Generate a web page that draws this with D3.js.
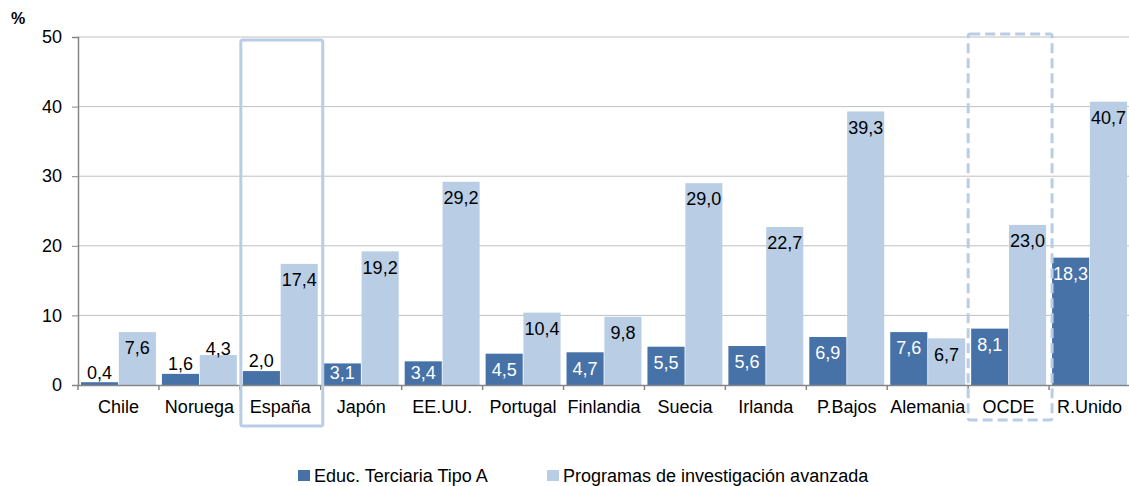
<!DOCTYPE html>
<html>
<head>
<meta charset="utf-8">
<script src="https://cdn.jsdelivr.net/npm/d3@7"></script>
<style>
  body { margin: 0; background: #fff; }
  svg { font-family: "Liberation Sans", Arial, sans-serif; }
</style>
</head>
<body>
<div id="chart"></div>
<script>
// data
var paises = ["Chile", "Noruega", "España", "Japón", "EE.UU.", "Portugal", "Finlandia", "Suecia", "Irlanda", "P.Bajos", "Alemania", "OCDE", "R.Unido"];
var terciariaA = [0.4, 1.6, 2.0, 3.1, 3.4, 4.5, 4.7, 5.5, 5.6, 6.9, 7.6, 8.1, 18.3];
var investigacion = [7.6, 4.3, 17.4, 19.2, 29.2, 10.4, 9.8, 29.0, 22.7, 39.3, 6.7, 23.0, 40.7];
var yTicks = [0, 10, 20, 30, 40, 50];
var series = ["Educ. Terciaria Tipo A", "Programas de investigación avanzada"];

var W = 1129, H = 486;
var margin = { top: 37, right: -1, bottom: 101, left: 78 };
var width = W - margin.left - margin.right;
var height = H - margin.top - margin.bottom;

var dark = "#4672A8", light = "#B9CDE5";
var fs = 18;

var svg = d3.select("#chart").append("svg")
  .attr("width", W).attr("height", H);
var g = svg.append("g")
  .attr("transform", "translate(" + margin.left + "," + margin.top + ")");

var x = d3.scaleBand().domain(paises).range([0, width]);
var x1 = d3.scaleBand().domain([0, 1]).range([3, x.bandwidth() - 3]).paddingInner(0.02);
var y = d3.scaleLinear().domain([0, 50]).range([height, 0]);

// grid
g.selectAll(".grid").data(yTicks.slice(1)).enter().append("line")
  .attr("x1", 0).attr("x2", width)
  .attr("y1", function (d) { return y(d); }).attr("y2", function (d) { return y(d); })
  .attr("stroke", "#c0c0c0").attr("stroke-width", 1);

// y axis
var yAxis = g.append("g").call(d3.axisLeft(y).tickValues(yTicks).tickSize(6).tickPadding(10).tickFormat(d3.format("d")));
yAxis.select(".domain").attr("stroke", "#868686").attr("stroke-width", 1.5);
yAxis.selectAll(".tick line").attr("stroke", "#868686");
yAxis.selectAll("text").attr("font-size", fs).attr("fill", "#000");

// bars
var grp = g.selectAll(".grp").data(paises).enter().append("g")
  .attr("transform", function (d) { return "translate(" + x(d) + ",0)"; });

grp.append("rect")
  .attr("x", x1(0)).attr("width", x1.bandwidth())
  .attr("y", function (d, i) { return y(terciariaA[i]); })
  .attr("height", function (d, i) { return height - y(terciariaA[i]); })
  .attr("fill", dark);
grp.append("rect")
  .attr("x", x1(1)).attr("width", x1.bandwidth())
  .attr("y", function (d, i) { return y(investigacion[i]); })
  .attr("height", function (d, i) { return height - y(investigacion[i]); })
  .attr("fill", light);

var fmt = function (v) { return d3.format(".1f")(v).replace(".", ","); };

// value labels (inside end, pushed above when the bar is too short)
grp.append("text")
  .attr("x", x1(0) + x1.bandwidth() / 2)
  .attr("y", function (d, i) {
    var t = y(terciariaA[i]);
    return terciariaA[i] < 3 ? t - 10 : Math.min(t + 16, height - 12);
  })
  .attr("dy", "0.35em").attr("text-anchor", "middle").attr("font-size", fs)
  .attr("fill", function (d, i) { return terciariaA[i] < 3 ? "#000" : "#fff"; })
  .text(function (d, i) { return fmt(terciariaA[i]); });
grp.append("text")
  .attr("x", x1(1) + x1.bandwidth() / 2)
  .attr("y", function (d, i) {
    var t = y(investigacion[i]);
    return investigacion[i] < 5 ? t - 6 : t + 16;
  })
  .attr("dy", "0.35em").attr("text-anchor", "middle").attr("font-size", fs)
  .attr("fill", "#000")
  .text(function (d, i) { return fmt(investigacion[i]); });

// x axis
var xAxis = g.append("g").attr("transform", "translate(0," + height + ")")
  .call(d3.axisBottom(x).tickSize(0).tickPadding(15));
xAxis.select(".domain").attr("stroke", "#868686").attr("stroke-width", 1.5);
xAxis.selectAll("text").attr("font-size", fs).attr("fill", "#000");
g.selectAll(".sep").data(paises).enter().append("line")
  .attr("x1", function (d) { return x(d); }).attr("x2", function (d) { return x(d); })
  .attr("y1", height).attr("y2", height + 5)
  .attr("stroke", "#868686").attr("stroke-width", 1.5);

// highlight boxes
g.append("rect")
  .attr("x", x("España") + 1).attr("width", x.bandwidth() + 1)
  .attr("y", 3).attr("height", height + 38)
  .attr("rx", 2).attr("fill", "none").attr("stroke", light).attr("stroke-width", 3);
g.append("rect")
  .attr("x", x("OCDE")).attr("width", x.bandwidth() + 3)
  .attr("y", -3).attr("height", height + 38)
  .attr("rx", 2).attr("fill", "none").attr("stroke", light).attr("stroke-width", 3)
  .attr("stroke-dasharray", "10,5");

// % label
svg.append("text").attr("x", 11).attr("y", 24).attr("font-size", 16).attr("font-weight", "bold").text("%");

// legend
var leg = svg.append("g").attr("transform", "translate(298,476)");
var legX = [0, 249];
series.forEach(function (s, i) {
  leg.append("rect").attr("x", legX[i]).attr("y", -6).attr("width", 12).attr("height", 11)
    .attr("fill", i === 0 ? dark : light);
  leg.append("text").attr("x", legX[i] + 16).attr("y", 0).attr("dy", "0.35em")
    .attr("font-size", fs).text(s);
});
</script>
</body>
</html>
